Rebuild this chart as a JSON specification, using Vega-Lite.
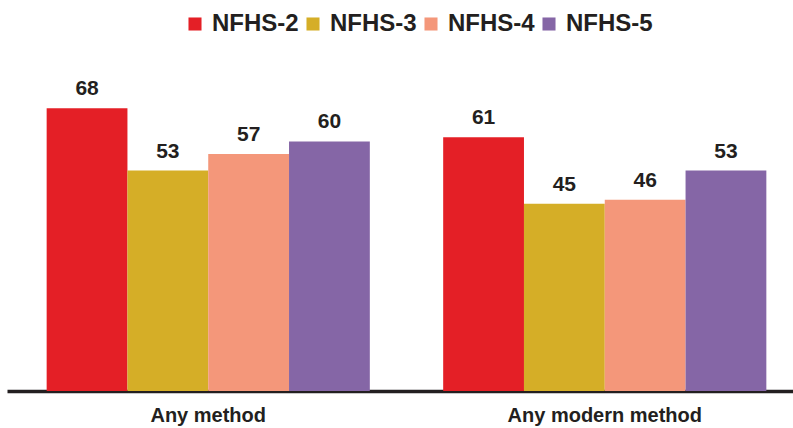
{
  "$schema": "https://vega.github.io/schema/vega-lite/v6.json",
  "autosize": {"type": "none"},
  "width": 799,
  "height": 341,
  "padding": {"left": 7, "top": 50, "right": 0, "bottom": 37},
  "background": "white",
  "data": {"values": [
    {"group": "Any method", "survey": "NFHS-2", "value": 68},
    {"group": "Any method", "survey": "NFHS-3", "value": 53},
    {"group": "Any method", "survey": "NFHS-4", "value": 57},
    {"group": "Any method", "survey": "NFHS-5", "value": 60},
    {"group": "Any modern method", "survey": "NFHS-2", "value": 61},
    {"group": "Any modern method", "survey": "NFHS-3", "value": 45},
    {"group": "Any modern method", "survey": "NFHS-4", "value": 46},
    {"group": "Any modern method", "survey": "NFHS-5", "value": 53}
  ]},
  "config": {"view": {"stroke": null}, "font": "Liberation Sans"},
  "encoding": {
    "x": {"field": "group", "type": "nominal", "sort": null,
      "scale": {"paddingInner": 0.185, "paddingOuter": 0.1},
      "axis": {"title": null, "labelAngle": 0, "labelFontSize": 20, "labelFontWeight": "bold", "labelColor": "#231f20", "labelPadding": 14, "labelLimit": 400, "ticks": false, "domainColor": "#231f20", "domainWidth": 3.5}},
    "xOffset": {"field": "survey", "type": "nominal", "sort": ["NFHS-2", "NFHS-3", "NFHS-4", "NFHS-5"], "scale": {"paddingInner": 0, "paddingOuter": 0}},
    "y": {"field": "value", "type": "quantitative", "scale": {"domain": [0, 82]}, "axis": null}
  },
  "layer": [
    {"mark": {"type": "bar"},
     "encoding": {"color": {"field": "survey", "type": "nominal", "sort": ["NFHS-2", "NFHS-3", "NFHS-4", "NFHS-5"],
       "scale": {"domain": ["NFHS-2", "NFHS-3", "NFHS-4", "NFHS-5"], "range": ["#e41f26", "#d5ae27", "#f4977a", "#8566a6"]},
       "legend": {"orient": "none", "direction": "horizontal", "legendX": 176, "legendY": -38, "title": null, "symbolType": "square", "symbolSize": 170, "symbolOpacity": 1, "symbolStrokeWidth": 0, "labelFontSize": 24, "labelFontWeight": "bold", "labelColor": "#231f20", "labelOffset": 5, "columnPadding": 2, "labelLimit": 200}}}},
    {"mark": {"type": "text", "baseline": "bottom", "dy": -9, "fontSize": 21, "fontWeight": "bold", "color": "#231f20"},
     "encoding": {"text": {"field": "value", "type": "quantitative"}}}
  ]
}
